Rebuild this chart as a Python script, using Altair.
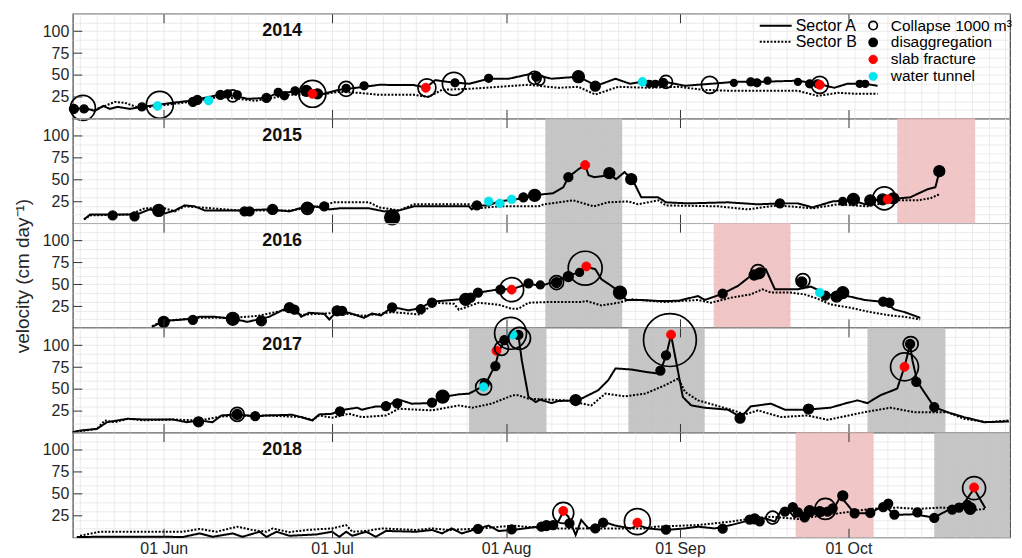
import altair as alt
import pandas as pd

FONT = "Liberation Sans"
YEARS = [2014, 2015, 2016, 2017, 2018]
MONTH_DAYS = [0, 30, 61, 92, 122]          # days since 1 June
MONTH_LABELS = ["01 Jun", "01 Jul", "01 Aug", "01 Sep", "01 Oct"]
Y_TICKS = [25, 50, 75, 100]
X_MIN, X_MAX = -16.2, 150.8
TYPES = ["Collapse 1000 m³", "disaggregation", "slab fracture", "water tunnel"]
SECTORS = ["Sector A", "Sector B"]
YEAR_LABEL_POS = (21.1, 100)

# ---- velocity series: (days since 1 June, velocity cm/day) ----
A_2014 = [(-16.2,11),(-14.0,12),(-12.3,8.7),(-10.8,14.4),(-9.6,11),(-8.2,13.3),(-6.0,11),(-3.9,13.3),(-1.1,15.6),(1.4,17.9),(4.6,20.2),(6.4,22.5),(9.9,27.1),(12.6,26),(14.9,22.5),(18.5,23.6),(20.2,29.4),(23.3,30.6),(25.9,30.6),(27.7,27.1),(31.3,32.9),(35.7,36.3),(38.4,38.6),(44.6,38.3),(46.7,35.2),(48.4,44),(50.5,42),(54.4,39.8),(57.9,45.6),(61.5,45.6),(65.5,51.3),(69.1,45.6),(73.9,47.9),(77.1,37.5),(80.5,45.6),(83.1,39.8),(85.1,42),(89.3,42),(92.9,37.5),(97.5,39.8),(101.8,42),(105.9,42),(113.0,43.3),(116.5,39.8),(119.5,35.2),(121.8,39.8),(124.9,39.8),(127.2,37.5)]
B_2014 = [(-16.2,11),(-12.3,9.8),(-8.7,19),(-6.9,17.9),(-4.3,12),(-1.1,14.4),(4.6,19),(9.9,24.8),(13.5,22.5),(16.2,20.2),(18.5,22.5),(22.4,27.1),(27.7,27.1),(31.3,30.6),(34.8,29.4),(38.4,27.1),(44.6,27.1),(47.2,24.8),(49.6,32.9),(54.4,34),(59.7,36.3),(65.0,38.6),(70.3,35.2),(73.9,36.3),(76.9,27.5),(81.0,36.3),(86.3,35.2),(91.7,36.3),(96.1,32.9),(101.1,31.7),(107.6,31.7),(113.0,31.7),(116.5,26),(120.1,29.4),(123.6,28.3),(127.2,28.3)]
A_2015 = [(-14.2,4.3),(-13.1,10),(-6.0,10),(-4.3,11.2),(-2.5,15.8),(-1.1,13.5),(0.2,11.2),(2.0,14.6),(3.7,20.4),(5.5,19.3),(7.3,14.6),(13.5,14.6),(18.8,15.8),(22.4,13.5),(24.2,17),(26.8,19.3),(29.5,15.8),(31.3,17),(36.6,17),(39.3,13.5),(41.9,14.6),(44.6,19.3),(49.0,19.3),(54.4,19.3),(54.9,15.8),(55.8,20.4),(57.9,20.4),(59.7,25),(64.1,28.5),(66.3,32.3),(69.4,34.3),(71.2,41.2),(72.1,52.7),(73.9,61.9),(75.1,66.6),(75.7,55),(76.7,52.7),(79.6,55),(80.6,50.4),(82.1,58.5),(83.5,50.4),(85.1,29.6),(88.1,29.6),(89.5,23.9),(93.4,22.7),(100.5,23.9),(105.9,21.6),(109.8,22.7),(113.0,22.7),(115.6,18.1),(119.2,25),(122.7,26.2),(125.0,21.6),(126.3,26.2),(129.0,27.3),(133.0,29.6),(136.1,38.9),(137.5,41.2),(138.2,58.5)]
B_2015 = [(-14.2,4.3),(-13.1,8.9),(-6.0,10),(-3.4,17),(0.2,17),(2.0,13.5),(3.7,19.3),(6.4,18.1),(13.5,14.6),(22.4,14.6),(26.8,18.1),(30.4,23.9),(36.6,23.9),(38.4,18.1),(41.9,14.6),(44.6,21.6),(54.4,21.6),(55.8,17),(59.7,19.3),(66.8,19.3),(67.7,21.6),(73.0,26.2),(76.6,19.3),(79.2,23.9),(82.8,25),(84.5,21.6),(88.1,26.2),(89.5,20.4),(98.8,19.3),(104.1,15.8),(109.4,20.4),(115.6,17),(120.1,21.6),(125.4,19.3),(130.7,26.2),(134.3,26.2),(136.6,28.5),(138.2,33.1)]
A_2016 = [(-2.1,1),(0,8),(2.8,9.2),(5.0,10.4),(6.4,12.7),(9.1,12.7),(12.3,10.4),(14.9,6.9),(17.4,10.4),(18.8,12.7),(22.0,23.1),(23.6,20.8),(24.5,12.7),(25.9,17.3),(28.6,16.1),(29.5,9.6),(30.9,19.2),(33.0,17.3),(35.7,11.5),(37.1,16.5),(38.7,14.2),(40.7,23.9),(43.7,20),(45.8,23),(47.8,30),(52.6,32.7),(54.0,33.5),(56.1,40.4),(59.7,44.2),(62.0,44.2),(65.0,50.7),(67.1,48),(69.1,51.9),(72.1,59.6),(74.2,64.2),(75.3,70),(76.9,67.3),(78.0,55.7),(79.8,48),(81.3,40.4),(82.4,32),(85.1,32),(88.1,30.8),(91.7,31),(95.2,36.5),(96.4,32),(99.3,38.4),(102.3,48),(104.6,59.6),(106.4,68),(107.3,67),(108.9,44.2),(113.0,44.2),(115.3,47.3),(117.0,42.3),(117.9,36.5),(120.1,39.2),(121.8,36.5),(124.9,32),(128.4,29.6),(130.2,21.1),(132.0,18.1),(134.8,11.5)]
B_2016 = [(-2.1,2),(0,8),(6.4,11.5),(12.3,11.5),(16.8,13.8),(22.0,20.8),(24.5,15),(31.3,17.3),(35.7,13.8),(40.7,18),(45.8,15.3),(48.1,28.8),(51.7,27.7),(52.6,20.8),(56.1,28.8),(59.7,26.5),(62.0,21.9),(63.2,22),(65.0,28.8),(68.6,29.6),(74.4,29.6),(75.3,30.8),(78.0,25.7),(81.0,28.8),(83.3,32.7),(89.3,29.6),(95.2,32),(97.5,28.8),(101.1,34.6),(104.6,38.4),(106.7,44.2),(108.2,40.4),(111.7,40.4),(114.2,38.4),(116.5,33.5),(118.8,26.9),(122.4,23),(125.9,18.1),(129.5,14.2),(132.0,12.7),(134.8,9.6)]
A_2017 = [(-16.2,0.5),(-14.9,2.3),(-11.9,4.2),(-10.1,11.9),(-6.4,15.8),(-3.7,15),(1.6,15),(4.1,11.9),(6.4,13.8),(8.7,11.9),(10.3,19.6),(13.1,20.8),(16.5,18.5),(18.3,19.6),(22.9,20.4),(24.5,17.7),(26.5,13.8),(27.7,20.8),(30.0,21.5),(31.3,25.4),(34.5,28.5),(35.3,26.2),(37.8,30),(39.6,30),(41.9,37.7),(44.2,33.1),(47.8,33.8),(49.6,40.7),(52.6,43.8),(54.4,44.6),(56.1,50.4),(57.4,56.1),(58.3,67.7),(59.1,77.3),(59.7,92.6),(60.9,108),(62.3,113.8),(63.2,111.9),(63.8,83),(65.0,40.7),(66.3,35),(67.1,37.7),(69.1,33.8),(70.3,36.1),(73.4,36.9),(74.4,38.8),(77.4,48.4),(79.2,60),(80.5,73.5),(83.3,72.3),(85.8,69.6),(88.1,67.7),(88.5,70.7),(89.5,87.7),(90.4,111.9),(91.6,71.5),(92.5,40.7),(94.0,31.1),(96.4,28.5),(100.5,26.2),(101.8,21.5),(102.8,16.9),(103.7,23.4),(104.6,30),(108.2,33.1),(110.7,26.2),(115.1,26.2),(116.5,27.3),(118.8,28.5),(121.3,33.1),(123.6,36.9),(125.4,33.8),(127.7,42.7),(130.7,50.4),(132.0,75.3),(133.0,101.5),(133.4,83),(134.3,58),(137.3,29.2),(139.6,23.4),(142.6,17.7),(146.2,11.9),(150.6,12.7)]
B_2017 = [(-16.2,0.5),(-11.9,4.2),(-10.5,13.8),(-8.7,11.9),(-6.4,15.8),(-3.7,14),(1.6,15),(6.4,13.8),(10.3,18.5),(18.3,19.6),(24.5,17.7),(26.5,14.5),(27.7,19.6),(30.0,17),(33.0,21.5),(35.3,17.7),(39.6,19.6),(41.9,27.3),(47.8,25.4),(52.6,31.1),(55.0,28.5),(58.4,33.1),(62.2,42.7),(63.2,42.7),(65.0,38.8),(71.6,36.9),(76.2,31.1),(78.7,44.6),(82.2,41.5),(85.8,44.6),(89.3,54.2),(91.7,61.9),(92.9,46.5),(95.2,36.9),(101.1,26.2),(103.6,20.8),(105.9,25.4),(110.0,17.7),(114.7,19.6),(118.3,14.6),(124.9,23.4),(129.5,28.5),(133.7,23.4),(139.6,23.4),(142.6,15.8),(146.7,11.9),(150.6,13.8)]
A_2018 = [(-15.5,0.3),(-11.4,0.5),(0.5,0.5),(3.4,0.3),(6.4,4.4),(8.7,0.5),(12.3,4.4),(14.0,0.5),(17.1,6.3),(18.3,0.3),(20.1,6.3),(22.4,1.7),(27.2,3.2),(30.0,6.3),(31.3,0.5),(32.5,6.3),(33.6,1.7),(36.1,6.3),(37.8,0.5),(39.6,7.2),(44.9,6.3),(47.8,8.3),(49.6,4.4),(51.3,10.1),(53.1,4.4),(56.1,10.1),(57.9,13.3),(59.7,7.2),(62.0,8.3),(66.8,12.1),(68.6,13.3),(70.3,17.9),(71.2,29.4),(72.1,23.6),(73.4,2.5),(74.4,19.8),(75.7,10.1),(77.4,14),(78.7,17),(80.5,13.3),(83.3,10.1),(84.5,14),(86.3,10.1),(89.3,8.3),(92.9,10.1),(95.2,12.1),(98.2,10.1),(101.1,14),(104.6,19.8),(107.1,21.7),(108.9,17.9),(109.9,29.4),(111.2,32.5),(112.4,22.5),(113.5,27),(115.3,29.4),(117.4,32.5),(119.5,34),(120.6,46.7),(123.1,27.5),(125.9,27.5),(128.4,37.1),(130.2,25.6),(133.7,26.3),(137.3,22.5),(140.9,35.2),(142.6,39),(144.4,55.6),(146.4,33.2)]
B_2018 = [(-14.9,1.7),(-11.4,6.3),(3.4,6.3),(6.4,9.5),(9.4,6.3),(13.1,12.1),(15.8,8.3),(18.3,6.3),(19.4,10.1),(22.4,5.8),(25.4,8.3),(30.0,10.1),(32.5,14),(33.6,6.3),(36.1,7.2),(38.9,10.1),(44.9,8.3),(47.8,10.1),(50.8,8.3),(56.7,10.1),(62.0,13.3),(68.6,10.1),(71.6,10.1),(77.4,10.1),(85.8,10.1),(87.6,12.1),(95.2,14),(101.1,17.9),(104.1,20.8),(108.2,23.6),(113.0,20.8),(116.0,23.6),(122.4,29.4),(125.9,32.5),(130.7,34),(134.3,32.5),(138.4,34),(142.6,32.5),(144.9,31.4),(146.4,32.5)]

# ---- events: (days since 1 June, velocity, marker diameter) ----
DIS_2014 = [(-16.0,11,9),(-14.2,11,8),(-3.9,13.3,8),(5.2,19,9),(6.0,21.3,9),(10.1,27.1,9),(11.4,28.3,8),(13.1,27.1,8),(18.3,23.6,9),(20.4,30,8),(21.5,26,8),(23.4,31.7,8),(25.4,31.7,11),(27.4,28.3,10),(32.5,34.6,8),(35.7,37.5,8),(51.9,40.9,8),(57.9,46.1,8),(66.4,47.9,9),(73.9,47.9,12),(76.9,37,10),(86.5,39.8,7),(87.6,39.8,7),(89.0,40.9,9),(101.6,40.9,7),(104.6,42,8),(105.7,40.9,8),(107.6,43.3,7),(113.0,42,7),(115.1,39.8,8),(116.5,39.8,8),(124.0,39.8,7),(125.0,39.8,7)]
COL_2014 = [(-14.4,12.1,25),(-0.7,15.6,27),(12.3,26,12),(26.5,28.3,27),(32.5,34,15),(46.9,35.2,18),(51.7,39.8,23),(66.1,46.7,13),(67.0,44,10),(89.5,42,13),(97.3,38.6,17),(116.9,38.6,17)]
SLAB_2014 = [(26.5,28.3),(46.7,35.2),(116.9,38.6)]
TUN_2014 = [(-1.1,14.4),(8.0,20.5),(85.3,42)]

DIS_2015 = [(-9.1,8.9,9),(-5.2,7.7,9),(-0.9,14.6,12),(14.4,13.5,9),(15.3,13.5,9),(19.4,15.8,10),(25.6,17,10),(28.6,19.3,9),(40.7,6.6,15),(55.8,20.4,9),(64.1,29.6,9),(66.1,32,12),(72.1,52.7,9),(79.4,57.3,11),(83.3,50.4,11),(109.8,22.7,9),(121.0,25,8),(122.9,27.3,12),(125.9,26.2,11),(128.1,27.3,11),(130.0,28.5,11),(138.2,59.6,11)]
COL_2015 = [(25.6,17,12),(128.4,28.5,23)]
SLAB_2015 = [(75.1,66.6),(129.0,27.3)]
TUN_2015 = [(57.9,25),(59.9,22.7),(62.0,27.3)]

DIS_2016 = [(0,6.9,11),(5.2,9.2,9),(12.3,10.4,13),(17.4,8,10),(22.4,23.1,10),(23.3,20.8,9),(30.9,19.6,10),(31.8,19.6,9),(40.7,23.5,9),(45.8,21.5,9),(47.8,28.8,9),(53.8,32.7,12),(54.7,34.6,9),(56.0,40.4,9),(60.0,43.8,9),(65.0,51,9),(67.1,49.2,8),(70.0,51.9,10),(72.1,58.8,10),(74.1,63.5,8),(81.3,40.4,13),(99.6,39.2,9),(105.2,60.6,10),(106.2,63,10),(113.7,52.7,10),(117.9,36.9,9),(119.9,35.8,11),(121.0,40.4,12),(128.2,30,9),(129.3,28.8,9)]
COL_2016 = [(62.0,43.8,24),(70.0,51.9,14),(75.1,68.4,34),(105.9,64.5,14),(113.9,54.2,14)]
SLAB_2016 = [(62.0,43.8),(75.3,70.4)]
TUN_2016 = [(116.9,40.4)]

DIS_2017 = [(6.2,12.3,10),(13.1,20.8,10),(16.3,18.8,9),(31.4,24.2,9),(39.6,30.4,9),(41.6,33.5,9),(47.8,34.2,9),(49.7,41.2,13),(57.2,56.1,9),(59.1,76.1,9),(60.7,106,9),(63.2,111.9,9),(73.4,37.3,11),(88.5,71.1,9),(89.5,88.4,9),(102.7,16.5,10),(114.9,26.9,10),(133.0,101.5,9),(134.1,58,9),(137.3,29.2,9)]
COL_2017 = [(13.1,20.8,14),(57.0,52.3,16),(60.2,96.5,14),(61.8,113.8,32),(63.4,108,22),(90.2,106,53),(132.0,75.3,28),(133.1,101.5,15)]
SLAB_2017 = [(59.3,93.8),(90.4,112.2),(132.0,75.3)]
TUN_2017 = [(57.0,52.3),(62.2,112.2)]

DIS_2018 = [(56.0,9.5,9),(62.0,9,9),(67.3,12.1,9),(68.2,13.3,10),(69.4,14,9),(72.3,16,9),(76.9,10.1,9),(78.3,16.7,9),(89.5,8.6,9),(99.6,9.8,9),(104.4,20.2,9),(105.3,21,10),(106.2,18.2,9),(110.7,29.4,9),(112.1,34.4,9),(113.0,28.6,9),(114.2,22.8,9),(115.1,29.8,11),(116.9,29.4,10),(118.3,29.4,9),(119.2,33.2,9),(121.0,47.5,10),(123.1,27.5,9),(125.9,27.9,9),(128.2,34.4,9),(129.1,38.6,9),(130.2,26,9),(134.3,28.6,9),(137.3,22.1,9),(140.5,31.7,9),(141.7,34,9),(143.2,37.1,9),(143.7,32.1,10)]
COL_2018 = [(71.2,27.9,21),(84.4,17.9,26),(108.5,22.5,13),(117.9,32.5,21),(144.4,56.3,23),(143.7,33.2,11)]
SLAB_2018 = [(71.2,30.2),(84.4,16.7),(144.4,57.1)]
TUN_2018 = []

# ---- shaded periods: (start day, end day, kind) ----
PER_2014 = []
PER_2015 = [(68.0,81.7,"grey"),(130.7,144.6,"pink")]
PER_2016 = [(68.0,81.7,"grey"),(98.0,111.7,"pink")]
PER_2017 = [(54.4,68.2,"grey"),(82.8,96.4,"grey"),(125.4,139.3,"grey")]
PER_2018 = [(112.6,126.5,"pink"),(137.3,150.8,"grey")]

SERIES = {
    2014: (A_2014, B_2014, DIS_2014, COL_2014, SLAB_2014, TUN_2014, PER_2014),
    2015: (A_2015, B_2015, DIS_2015, COL_2015, SLAB_2015, TUN_2015, PER_2015),
    2016: (A_2016, B_2016, DIS_2016, COL_2016, SLAB_2016, TUN_2016, PER_2016),
    2017: (A_2017, B_2017, DIS_2017, COL_2017, SLAB_2017, TUN_2017, PER_2017),
    2018: (A_2018, B_2018, DIS_2018, COL_2018, SLAB_2018, TUN_2018, PER_2018),
}

# ---- styles ----
DOT = 9
FILLS = ["transparent", "black", "#ff0000", "#00e5ee"]
STROKES = ["black", "black", "#ff0000", "#00d8e0"]
WIDTHS = [1.7, 0.5, 0.5, 0.5]
GRID_COLOR = "#e6e6e6"
GRID_DAYS = list(range(-15, 151, 3))
GRID_VELS = list(range(0, 121, 10))

label_expr = " : ".join(
    f"datum.value == {d} ? '{l}'" for d, l in zip(MONTH_DAYS[:-1], MONTH_LABELS[:-1])
) + f" : '{MONTH_LABELS[-1]}'"

xs = alt.Scale(domain=[X_MIN, X_MAX], nice=False, zero=False)
ys = alt.Scale(domain=[0, 120], nice=False, zero=False)


def panel(year):
    a, b, dis, col, slab, tun, per = SERIES[year]
    first, last, mid = year == YEARS[0], year == YEARS[-1], year == YEARS[2]

    per_df = pd.DataFrame(per, columns=["start", "end", "kind"])
    la = pd.DataFrame(a, columns=["day", "vel"]).assign(sector="Sector A")
    lb = pd.DataFrame(b, columns=["day", "vel"]).assign(sector="Sector B")
    rows = []
    for d, v, s in dis:
        rows.append((d, v, s * s, TYPES[1]))
    for d, v in slab:
        rows.append((d, v, DOT * DOT, TYPES[2]))
    for d, v in tun:
        rows.append((d, v, DOT * DOT, TYPES[3]))
    for d, v, s in col:
        rows.append((d, v, s * s, TYPES[0]))
    mk = pd.DataFrame(rows, columns=["day", "vel", "area", "type"])
    lab = pd.DataFrame([{"day": YEAR_LABEL_POS[0], "vel": YEAR_LABEL_POS[1], "label": str(year)}])

    grid_x = alt.Axis(orient="top", values=GRID_DAYS, grid=True, ticks=False, labels=False,
                      domain=False, title=None, gridColor=GRID_COLOR, gridWidth=0.8, zindex=0)
    grid_y = alt.Axis(orient="left", values=GRID_VELS, grid=True, ticks=False, labels=False,
                      domain=False, title=None, gridColor=GRID_COLOR, gridWidth=0.8, zindex=0)
    bottom_ax = alt.Axis(orient="bottom", values=MONTH_DAYS, grid=False, domain=False, ticks=True,
                         tickSize=9, offset=-9, labels=last, labelExpr=label_expr, labelPadding=3,
                         title=None, zindex=1)
    top_ax = alt.Axis(orient="top", values=MONTH_DAYS, grid=False, domain=False, ticks=True,
                      tickSize=9, offset=-9, labels=False, title=None, zindex=1)
    y_ax = alt.Axis(orient="left", values=Y_TICKS, grid=False, domain=False, ticks=True,
                    tickSize=9, offset=-9, labelPadding=4, zindex=1, titlePadding=10,
                    title=("velocity (cm day⁻¹)" if mid else None))

    dash_leg = alt.Legend(orient="none", legendX=697, legendY=4, title=None, direction="vertical",
                          symbolType="M-4,0H4", symbolSize=64, symbolStrokeWidth=2,
                          labelOffset=12, labelFontSize=16, labelFont=FONT, labelColor="black",
                          padding=0, rowPadding=-3) if first else None
    mk_leg = alt.Legend(orient="none", legendX=795, legendY=4, title=None, direction="vertical",
                        symbolType="circle", symbolSize=72, symbolStrokeWidth=2,
                        labelOffset=10, labelFontSize=15.5, labelFont=FONT, labelColor="black",
                        padding=0, rowPadding=-1) if first else None
    dash_scale = alt.Scale(domain=SECTORS, range=[[1, 0], [2, 1.6]])

    rect = alt.Chart(per_df).mark_rect(opacity=0.85).encode(
        x=alt.X("start:Q", scale=xs, axis=grid_x),
        x2="end:Q",
        color=alt.Color("kind:N", scale=alt.Scale(domain=["grey", "pink"], range=["#bcbcbc", "#efbcbc"]),
                        legend=None),
    )
    line_b = alt.Chart(lb).mark_line(color="black", strokeWidth=2).encode(
        x=alt.X("day:Q", scale=xs, axis=bottom_ax),
        y=alt.Y("vel:Q", scale=ys, axis=grid_y),
        strokeDash=alt.StrokeDash("sector:N", scale=dash_scale, legend=dash_leg),
    )
    line_a = alt.Chart(la).mark_line(color="black", strokeWidth=2).encode(
        x=alt.X("day:Q", scale=xs, axis=top_ax),
        y=alt.Y("vel:Q", scale=ys, axis=y_ax),
        strokeDash=alt.StrokeDash("sector:N", scale=dash_scale, legend=dash_leg),
    )
    marks = alt.Chart(mk).mark_circle(opacity=1).encode(
        x=alt.X("day:Q", scale=xs, axis=None),
        y=alt.Y("vel:Q", scale=ys, axis=None),
        fill=alt.Fill("type:N", scale=alt.Scale(domain=TYPES, range=FILLS), legend=mk_leg),
        stroke=alt.Stroke("type:N", scale=alt.Scale(domain=TYPES, range=STROKES), legend=mk_leg),
        strokeWidth=alt.StrokeWidth("type:N", scale=alt.Scale(domain=TYPES, range=WIDTHS), legend=None),
        size=alt.Size("area:Q", scale=None),
    )
    txt = alt.Chart(lab).mark_text(font=FONT, fontSize=18, fontWeight="bold", color="#111111",
                                   align="center", baseline="middle").encode(
        x=alt.X("day:Q", scale=xs, axis=None),
        y=alt.Y("vel:Q", scale=ys, axis=None),
        text="label:N",
    )
    return alt.layer(rect, line_b, line_a, marks, txt).resolve_axis(
        x="independent", y="independent"
    ).properties(width=940, height=105)


chart = alt.vconcat(*[panel(y) for y in YEARS], spacing=0, bounds="flush").resolve_scale(
    fill="independent", stroke="independent", strokeDash="independent",
    strokeWidth="independent", color="independent",
).resolve_legend(
    fill="independent", stroke="independent", strokeDash="independent",
).properties(
    padding={"left": 4, "top": 3, "right": 0, "bottom": 0}
).configure_view(
    stroke="#444444", strokeWidth=1.2
).configure_axis(
    labelFont=FONT, labelFontSize=16, labelColor="#262626", tickColor="#333333", tickWidth=1,
    titleFont=FONT, titleFontSize=19, titleFontWeight="normal", titleColor="#262626",
)

chart.save("out.html", embed_options={"renderer": "svg", "actions": False})
